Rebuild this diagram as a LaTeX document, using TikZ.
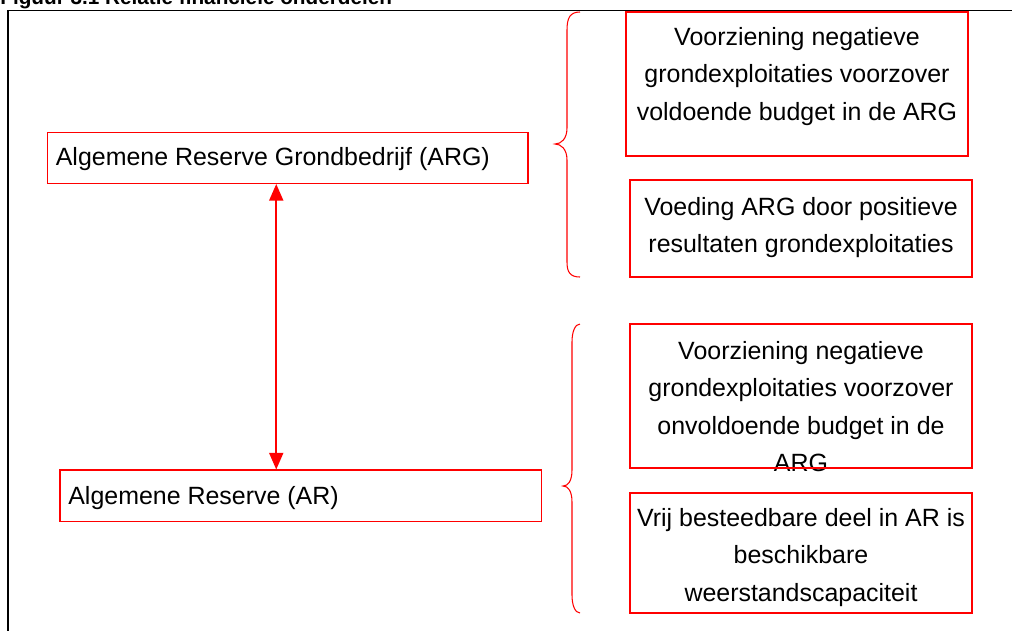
\documentclass[tikz,border=0pt]{standalone}
\usepackage{fontspec}
\setmainfont{Liberation Sans}
\usetikzlibrary{arrows.meta,fit,calc}
\begin{document}
\begin{tikzpicture}[x=0.02cm,y=-0.02cm,
  rbox/.style={draw=red, line width=0.6pt, inner sep=0pt},
  txt/.style={font=\fontsize{14.2pt}{21.3pt}\selectfont, align=center, inner sep=0pt},
  brace/.style={draw=red, line width=0.6pt},
  arr/.style={draw=red, line width=1.1pt, {Triangle[length=9.5pt,width=8pt]}-{Triangle[length=9.5pt,width=8pt]}},
  frame/.style={draw=black, line width=0.9pt}]
\useasboundingbox (0,0) rectangle (1012,630);
% title (clipped at top)
\node[anchor=base west, inner sep=0pt, font=\fontsize{11.8pt}{14pt}\selectfont\bfseries] (title) at (0,4.5) {Figuur 3.1 Relatie financiële onderdelen};
% frame
\draw[frame] (8,632) -- (8,10.5) -- (1014,10.5);
% left boxes
\node[rbox, fit={(47.5,132.5) (528,183.5)}] (arg) {};
\node[txt, anchor=base west] (argt) at (55.5,165) {Algemene Reserve Grondbedrijf (ARG)};
\node[rbox, fit={(60,470) (541.5,521.5)}] (ar) {};
\node[txt, anchor=base west] (art) at (68,504) {Algemene Reserve (AR)};
% arrow
\draw[arr] ($(arg.south)+(-11.5,0)$) -- ($(ar.north)+(-24.5,0)$);
% right boxes
\node[rbox, fit={(626,12) (968,156)}] (b1) {};
\node[txt, anchor=north] (t1) at (797,27) {Voorziening negatieve\\grondexploitaties voorzover\\voldoende budget in de ARG};
\node[rbox, fit={(630,180) (972,277)}] (b2) {};
\node[txt, anchor=north] (t2) at (801,197) {Voeding ARG door positieve\\resultaten grondexploitaties};
\node[txt, anchor=north] (t3) at (801,341) {Voorziening negatieve\\grondexploitaties voorzover\\onvoldoende budget in de\\ARG};
\node[rbox, fit={(630,324) (972,468)}] (b3) {};
\node[rbox, fit={(630,493) (972,613)}] (b4) {};
\node[txt, anchor=north] (t4) at (801,508) {Vrij besteedbare deel in AR is\\beschikbare\\weerstandscapaciteit};
% braces
\draw[brace] (580,12) .. controls (570,12) and (567,18) .. (567,30) -- (567,128)
  .. controls (567,139) and (561,144) .. (555,144)
  .. controls (561,144) and (567,149) .. (567,160) -- (567,262)
  .. controls (567,272) and (570,277) .. (580,277);
\draw[brace] (580,324) .. controls (575,324) and (572,332) .. (572,342) -- (572,470)
  .. controls (572,481) and (568,486) .. (563,486)
  .. controls (568,486) and (572,491) .. (572,502) -- (572,595)
  .. controls (572,605) and (575,613) .. (580,613);
\end{tikzpicture}
\end{document}
